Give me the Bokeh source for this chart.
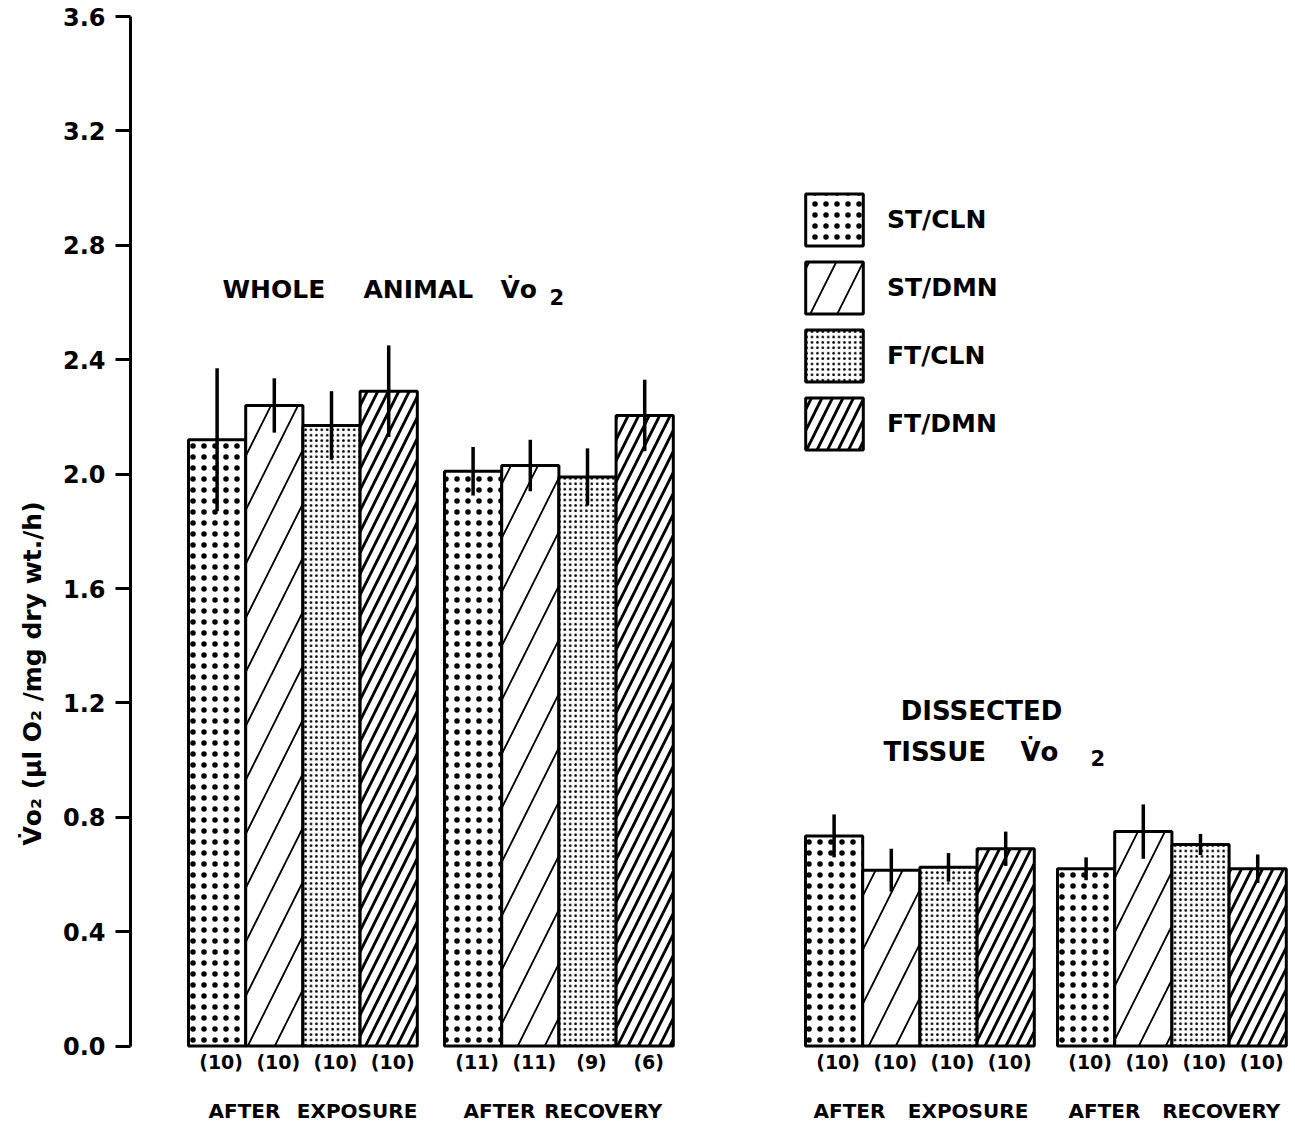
from bokeh.plotting import figure
from bokeh.models import Range1d, Legend, LegendItem, Title, FixedTicker
from bokeh.core.properties import value
from bokeh.embed import file_html
from bokeh.resources import INLINE

# Treatment groups and measurement conditions
treatments = ["ST/CLN", "ST/DMN", "FT/CLN", "FT/DMN"]
conditions = ["AFTER EXPOSURE", "AFTER RECOVERY", "AFTER EXPOSURE", "AFTER RECOVERY"]

# Whole animal VO2 (ul O2 / mg dry wt / h), mean and error
whole_exposure = [2.12, 2.24, 2.17, 2.29]
whole_exposure_err = [0.25, 0.095, 0.12, 0.16]
whole_recovery = [2.01, 2.03, 1.99, 2.205]
whole_recovery_err = [0.085, 0.09, 0.10, 0.125]

# Dissected tissue VO2
tissue_exposure = [0.735, 0.615, 0.625, 0.69]
tissue_exposure_err = [0.075, 0.075, 0.05, 0.06]
tissue_recovery = [0.62, 0.75, 0.705, 0.62]
tissue_recovery_err = [0.04, 0.095, 0.037, 0.05]

# Sample sizes
n_whole_exposure = ["(10)", "(10)", "(10)", "(10)"]
n_whole_recovery = ["(11)", "(11)", "(9)", "(6)"]
n_tissue_exposure = ["(10)", "(10)", "(10)", "(10)"]
n_tissue_recovery = ["(10)", "(10)", "(10)", "(10)"]

y_ticks = [0.0, 0.4, 0.8, 1.2, 1.6, 2.0, 2.4, 2.8, 3.2, 3.6]

means = [whole_exposure, whole_recovery, tissue_exposure, tissue_recovery]
errors = [whole_exposure_err, whole_recovery_err, tissue_exposure_err, tissue_recovery_err]
counts = [n_whole_exposure, n_whole_recovery, n_tissue_exposure, n_tissue_recovery]

# ---- layout (horizontal units = canvas pixels) ----
W, H = 1295, 1126
LEFT = 130
group_starts = [188, 444, 805, 1057]
bar_w = 57.2
label_pad_left = [20, 19, 8, 11]
label_pad_right = [0, 11, 6, 6]

# vertical mapping: value 0 at pixel 1045.6, 286 px per unit
PX0, PXU = 1045.6, 286.0
def yv(px):
    return (PX0 - px) / PXU

FONT = "DejaVu Sans"

p = figure(width=W, height=H, output_backend="svg", toolbar_location=None,
           x_range=Range1d(LEFT, W), y_range=Range1d(yv(H), yv(0)),
           x_axis_location=None, y_axis_location="left",
           min_border_left=LEFT, min_border_right=0, min_border_top=0, min_border_bottom=0)
p.outline_line_color = None
p.grid.visible = False
p.background_fill_color = "white"
p.border_fill_color = "white"

ax = p.yaxis[0]
ax.bounds = (0, 3.6)
ax.ticker = FixedTicker(ticks=y_ticks)
ax.minor_tick_line_color = None
ax.major_tick_in = 0
ax.major_tick_out = 15
ax.major_tick_line_width = 3
ax.axis_line_width = 3
ax.major_label_standoff = 10
ax.major_label_text_font = FONT
ax.major_label_text_font_style = "bold"
ax.major_label_text_font_size = "24px"
ax.major_label_text_color = "black"
ax.major_label_overrides = {t: f"{t:.1f}" for t in y_ticks}

# fill screens: sparse / dense dots and wide / narrow diagonal lines
hatch_styles = [
    dict(hatch_pattern="dot", hatch_scale=11, hatch_weight=0.2),
    dict(hatch_pattern="right_diagonal_line", hatch_scale=54, hatch_weight=1.8),
    dict(hatch_pattern="dot", hatch_scale=5.4, hatch_weight=0.8),
    dict(hatch_pattern="right_diagonal_line", hatch_scale=21, hatch_weight=2.8),
]

renderers = []
for i, name in enumerate(treatments):
    lefts = [group_starts[g] + i * bar_w for g in range(4)]
    rights = [l + bar_w for l in lefts]
    tops = [means[g][i] for g in range(4)]
    r = p.quad(left=lefts, right=rights, bottom=0, top=tops,
               fill_color="white", line_color="black", line_width=3,
               hatch_color="black", **hatch_styles[i])
    renderers.append(r)

# error bars
ex, e0, e1 = [], [], []
for g in range(4):
    for i in range(4):
        cx = group_starts[g] + (i + 0.5) * bar_w
        ex.append(cx)
        e0.append(means[g][i] - errors[g][i])
        e1.append(means[g][i] + errors[g][i])
p.segment(x0=ex, x1=ex, y0=e0, y1=e1, line_color="black", line_width=3.5)

# sample sizes below bars
nx, ny, nt = [], [], []
for g in range(4):
    for i in range(4):
        nx.append(group_starts[g] + (i + 0.5) * bar_w + 4)
        ny.append(yv(1061))
        nt.append(counts[g][i])
p.text(x=nx, y=ny, text=nt, text_align="center", text_baseline="middle",
       text_font=value(FONT), text_font_style="bold", text_font_size="19px",
       text_color="black")

# condition labels: first word at the group's left, second at its right
bold = dict(text_font=value(FONT), text_font_style="bold", text_color="black")
for g in range(4):
    first, second = conditions[g].split()
    gl = group_starts[g] + label_pad_left[g]
    gr = group_starts[g] + 4 * bar_w - label_pad_right[g]
    p.text(x=[gl], y=[yv(1110)], text=[first], text_align="left",
           text_baseline="middle", text_font_size="20px", **bold)
    p.text(x=[gr], y=[yv(1110)], text=[second], text_align="right",
           text_baseline="middle", text_font_size="20px", **bold)

# panel titles
p.text(x=[222, 363, 500], y=[yv(289)] * 3, text=["WHOLE", "ANIMAL", "V\u0307o"],
       text_align="left", text_baseline="alphabetic", text_font_size="25px", **bold)
p.text(x=[549], y=[yv(296)], text=["2"], text_align="left",
       text_baseline="alphabetic", text_font_size="21px", **bold)

p.text(x=[981], y=[yv(710)], text=["DISSECTED"], text_align="center",
       text_baseline="alphabetic", text_font_size="26px", **bold)
p.text(x=[883, 1020], y=[yv(751)] * 2, text=["TISSUE", "V\u0307o"],
       text_align="left", text_baseline="alphabetic", text_font_size="26px", **bold)
p.text(x=[1090], y=[yv(757)], text=["2"], text_align="left",
       text_baseline="alphabetic", text_font_size="21px", **bold)

# vertical axis title
p.add_layout(Title(text="V\u0307o\u2082   (\u03bcl O\u2082  /mg  dry  wt./h)", align="left",
                   offset=281, standoff=26, text_font=FONT, text_font_style="bold",
                   text_font_size="25px", text_color="black"), "left")

legend = Legend(items=[LegendItem(label=t, renderers=[r]) for t, r in zip(treatments, renderers)],
                location=(668, 670), glyph_width=72, glyph_height=65, spacing=3,
                label_standoff=17, padding=0, margin=0,
                border_line_alpha=0, background_fill_alpha=0,
                label_text_font=FONT, label_text_font_style="bold",
                label_text_font_size="25px", label_text_color="black")
p.add_layout(legend)

open("out.html", "w").write(file_html(p, INLINE))
